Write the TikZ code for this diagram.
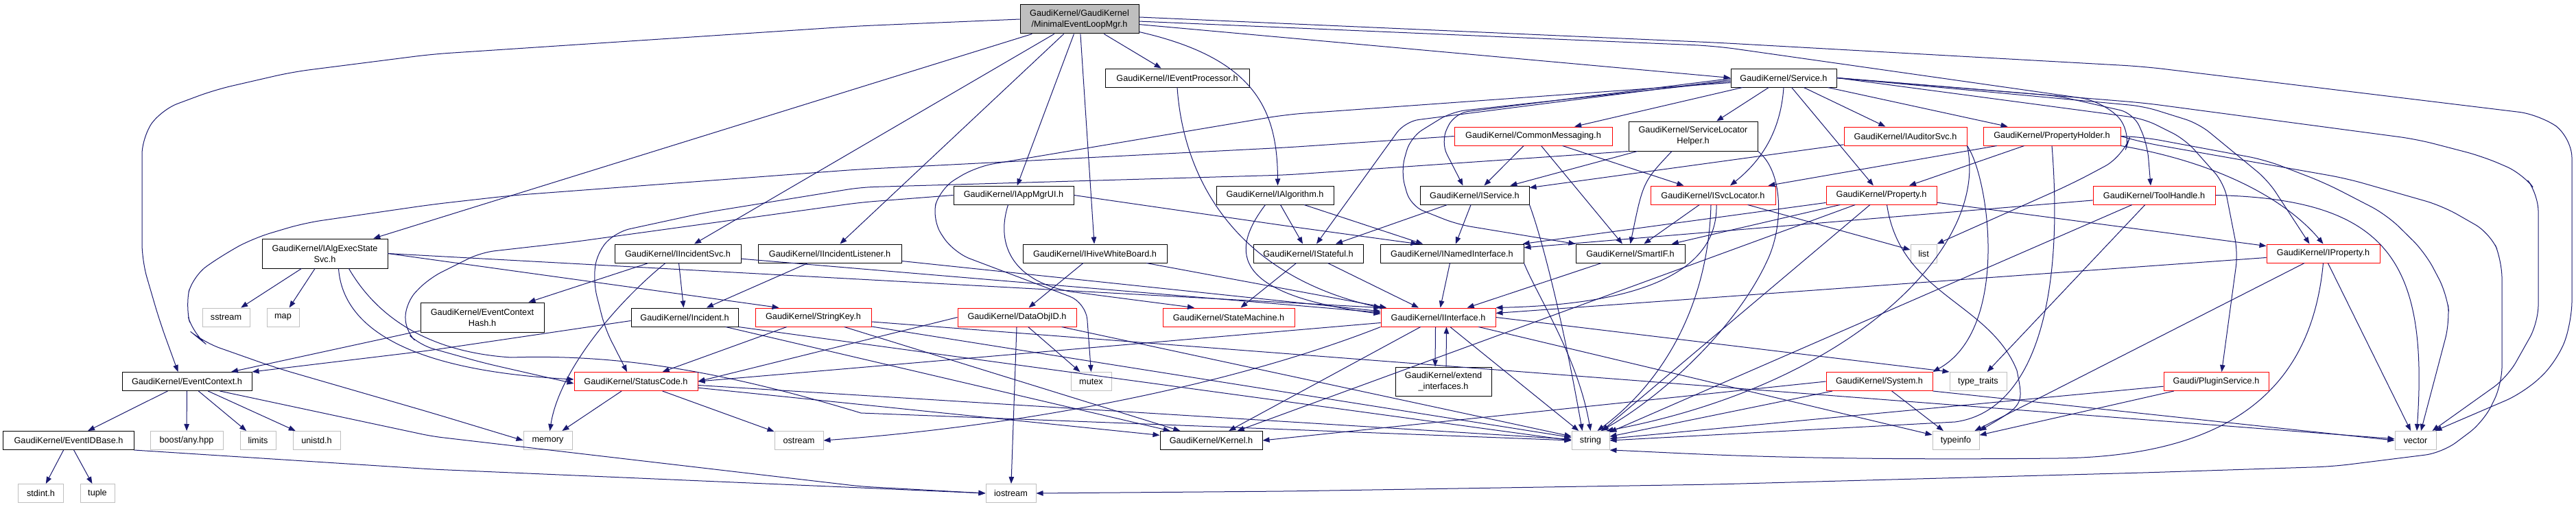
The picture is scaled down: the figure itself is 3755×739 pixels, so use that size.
\documentclass[tikz,border=0pt]{standalone}
\usepackage{fontspec}
\newfontfamily\dfont{Liberation Sans}
\usetikzlibrary{arrows.meta}
\definecolor{eb}{RGB}{25,25,112}
\definecolor{gb}{RGB}{191,191,191}
\begin{document}
\begin{tikzpicture}[x=1bp,y=-1bp,
  box/.style={rectangle, inner sep=0pt, line width=1bp, align=center, text=black, font={\dfont\fontsize{12.7bp}{16bp}\selectfont}, minimum height=27bp},
  nb/.style={box, draw=black},
  rb/.style={box, draw=red},
  gx/.style={box, draw=gb},
  tall/.style={minimum height=43bp},
  w/.style={minimum width=#1bp},
  e/.style={draw=eb, line width=1bp, -{Triangle[length=10bp,width=7.5bp]}}
]
\fill[white] (0,0) rectangle (3755,739);
\useasboundingbox (0,0) rectangle (3755,739);

% row 0
\node[nb, tall, w=173, fill=gb, minimum height=42bp] (top) at (1573.5,28) {GaudiKernel/GaudiKernel\\/MinimalEventLoopMgr.h};
% row 1
\node[nb, w=210] (evp) at (1716,113.5) {GaudiKernel/IEventProcessor.h};
\node[nb, w=154] (svc) at (2600,113.5) {GaudiKernel/Service.h};
% row 2
\node[rb, w=230] (cm) at (2235,198.5) {GaudiKernel/CommonMessaging.h};
\node[nb, tall, w=188] (slh) at (2468,198.5) {GaudiKernel/ServiceLocator\\Helper.h};
\node[rb, w=179] (aud) at (2777.5,198.5) {GaudiKernel/IAuditorSvc.h};
\node[rb, w=200] (ph) at (2991,198.5) {GaudiKernel/PropertyHolder.h};
% row 3
\node[nb, w=175] (amu) at (1477.5,284.5) {GaudiKernel/IAppMgrUI.h};
\node[nb, w=171] (alg) at (1858.5,284.5) {GaudiKernel/IAlgorithm.h};
\node[nb, w=159] (isvc) at (2149.5,284.5) {GaudiKernel/IService.h};
\node[rb, w=182] (isl) at (2497,284.5) {GaudiKernel/ISvcLocator.h};
\node[rb, w=161] (prop) at (2742.5,284.5) {GaudiKernel/Property.h};
\node[rb, w=178] (th) at (3140,284.5) {GaudiKernel/ToolHandle.h};
% row 4
\node[nb, tall, w=183] (aes) at (473.5,369.5) {GaudiKernel/IAlgExecState\\Svc.h};
\node[nb, w=184] (iis) at (988,369.5) {GaudiKernel/IIncidentSvc.h};
\node[nb, w=209] (iil) at (1209.5,369.5) {GaudiKernel/IIncidentListener.h};
\node[nb, w=210] (hwb) at (1596,369.5) {GaudiKernel/IHiveWhiteBoard.h};
\node[nb, w=160] (ist) at (1907,369.5) {GaudiKernel/IStateful.h};
\node[nb, w=209] (ini) at (2116.5,369.5) {GaudiKernel/INamedInterface.h};
\node[nb, w=159] (sif) at (2376.5,369.5) {GaudiKernel/SmartIF.h};
\node[gx, w=38] (list) at (2804,369.5) {list};
\node[rb, w=165] (iprop) at (3386.5,369.5) {GaudiKernel/IProperty.h};
% row 5
\node[gx, w=69] (sstream) at (329.5,462.5) {sstream};
\node[gx, w=47] (map) at (412.5,462.5) {map};
\node[nb, tall, w=180] (ech) at (703,462.5) {GaudiKernel/EventContext\\Hash.h};
\node[nb, w=156] (inc) at (998,462.5) {GaudiKernel/Incident.h};
\node[rb, w=169] (sk) at (1185.5,462.5) {GaudiKernel/StringKey.h};
\node[rb, w=173] (doid) at (1482.5,462.5) {GaudiKernel/DataObjID.h};
\node[rb, w=192] (sm) at (1791,462.5) {GaudiKernel/StateMachine.h};
\node[rb, w=167] (ii) at (2096.5,462.5) {GaudiKernel/IInterface.h};
% row 6
\node[nb, w=189] (ec) at (272.5,556) {GaudiKernel/EventContext.h};
\node[rb, w=180] (sc) at (927,556) {GaudiKernel/StatusCode.h};
\node[gx, w=59] (mutex) at (1590.5,556) {mutex};
\node[nb, w=140, minimum height=42bp] (ext) at (2104,556) {GaudiKernel/extend\\\_interfaces.h};
\node[rb, w=155] (sys) at (2739.5,556) {GaudiKernel/System.h};
\node[gx, w=83] (tt) at (2883.5,556) {type\_traits};
\node[rb, w=153] (ps) at (3230.5,556) {Gaudi/PluginService.h};
% row 7
\node[nb, w=190] (eidb) at (100,642) {GaudiKernel/EventIDBase.h};
\node[gx, w=106] (any) at (272,642) {boost/any.hpp};
\node[gx, w=52] (limits) at (376,642) {limits};
\node[gx, w=69] (unistd) at (461.5,642) {unistd.h};
\node[gx, w=71] (memory) at (798.5,642) {memory};
\node[gx, w=71] (ostream) at (1164.5,642) {ostream};
\node[nb, w=149] (kern) at (1765.5,642) {GaudiKernel/Kernel.h};
\node[gx, w=55] (string) at (2318.5,642) {string};
\node[gx, w=68] (typeinfo) at (2851,642) {typeinfo};
\node[gx, w=60] (vector) at (3521,642) {vector};
% row 8
\node[gx, w=65] (stdint) at (59.5,719) {stdint.h};
\node[gx, w=50] (tuple) at (142,719) {tuple};
\node[gx, w=73] (iostream) at (1473.5,719) {iostream};

% ---- edges from top
\draw[e, rounded corners=25bp] (top.west) -- (1250,38) -- (630,79) -- (426,105) -- (313,131) -- (235,160) -- (207,200) -- (207,380) -- (233,469) -- ([xshift=-13bp]ec.north);
\draw[e] (top) -- (aes);
\draw[e] (top) -- (iis);
\draw[e] (top) -- (iil);
\draw[e] (top) -- (amu);
\draw[e] (top) -- (hwb);
\draw[e] (top) -- (evp);
\draw[e] (top.-12) .. controls (1830,85) and (1862,160) .. ([xshift=4bp]alg.north);
\draw[e] (top.-5) -- (svc.west);
\draw[e, rounded corners=30bp] (top.-2) -- (2500,67) -- (3063,147) -- (3108,190) -- (3095,228) -- (3022,267) -- (list.north east);
\draw[e, rounded corners=30bp] (top.2) -- (2500,62) -- (3125,97) -- (3702,167) -- (3749,200) -- (3749,469) -- (3728,526) -- (3680,572) -- ([xshift=-2bp]vector.north east);

% ---- IEventProcessor
\draw[e] (evp.south) .. controls (1725,260) and (1800,400) .. (ii.north west);

% ---- Service
\draw[e] (svc) -- (cm);
\draw[e] (svc) -- (slh);
\draw[e] (svc.south) .. controls (2595,200) and (2560,240) .. ([xshift=25bp]isl.north);
\draw[e] (svc) -- (prop);
\draw[e] (svc) -- (aud);
\draw[e] (svc) -- (ph);
\draw[e, rounded corners=20bp] ([yshift=-1bp]svc.west) -- (2120,165) -- (2100,207) -- ([xshift=-17bp]isvc.north);
\draw[e, rounded corners=20bp] ([yshift=-3bp]svc.west) -- (2048,177) -- ([xshift=12bp]ist.north);
\draw[e, rounded corners=20bp] ([yshift=-5bp]svc.west) -- (2116,163) -- (2056,200) -- (2042,250) -- (2056,300) -- (2124,327) -- (sif.north west);
\draw[e, rounded corners=25bp] ([yshift=-7bp]svc.west) -- (1875,167) -- (1423,243) -- (1370,275) -- (1358,320) -- (1390,368) -- (1583,441) -- (mutex.north);
\draw[e, rounded corners=20bp] (svc.east) -- (3000,140) -- (3110,165) -- (3130,210) -- ([xshift=-5bp]th.north);
\draw[e, rounded corners=20bp] (svc.east) -- (3125,155) -- (3205,180) -- (3306,263) -- ([xshift=-20bp]iprop.north);
\draw[e, rounded corners=20bp] (svc.east) -- (3125,173) -- (3185,203) -- (3242,267) -- (3262,369) -- ([xshift=8bp]ps.north);
\draw[e, rounded corners=25bp] (svc.east) -- (3125,150) -- (3523,203) -- (3619,228) -- (3677,253) -- (3700,283) -- (3700,470) -- (3655,550) -- ([xshift=-6bp]vector.north east);

% ---- CommonMessaging
\draw[e] (cm) -- (isvc);
\draw[e] (cm) -- (sif);
\draw[e] (cm) -- (isl);
\draw[e, rounded corners=25bp] (cm.west) -- (1875,215) -- (1250,247) -- (745,285) -- (630,298) -- (444,325) -- (370,347) -- (329,369) -- (281,402) -- (270,446) -- (281,486) -- (297,499) -- (402,536) -- (630,602) -- (memory.west);

% ---- ServiceLocatorHelper
\draw[e] (slh) -- (isvc);
\draw[e] ([xshift=-31bp]slh.south) .. controls (2395,265) .. (sif.north);
\draw[e] (slh.south east) .. controls (2600,250) and (2600,330) .. (2576,380) .. controls (2530,480) and (2420,580) .. ([xshift=15bp]string.north);
\draw[e, rounded corners=20bp] (slh.south west) -- (1875,255) -- (1255,273) -- (1027,310) -- (898,338) -- (870,368) -- (865,412) -- (882,479) -- ([xshift=-13bp]sc.north);

% ---- IAuditorSvc
\draw[e] (aud) -- (isvc);
\draw[e] (aud.south east) .. controls (2900,260) and (2930,480) .. (sys.north east);
\draw[e] (aud.south east) .. controls (2900,360) and (2700,560) .. ([xshift=-5bp]string.north east);

% ---- PropertyHolder
\draw[e] (ph) -- (prop);
\draw[e] (ph) -- (isl);
\draw[e] (ph.south east) .. controls (3250,240) and (3340,300) .. (iprop.north);
\draw[e, rounded corners=25bp] (ph.east) -- (3125,200) -- (3302,233) -- (3390,267) -- (3479,313) -- (3535,368) -- (3567,429) -- (3571,469) -- ([xshift=8bp]vector.north);
\draw[e] (ph.south) .. controls (3010,450) and (2960,600) .. (2850,615) -- (string.east);
\draw[e, rounded corners=25bp] (ph.east) -- (3125,208) -- (3420,260) -- (3560,300) -- (3630,340) -- (3647,380) -- (3647,560) -- (3620,615) -- (3560,660) -- (3400,680) -- (3125,689) -- (2500,706) -- (1875,716) -- (iostream.east);

% ---- IAppMgrUI
\draw[e, rounded corners=20bp] (amu.west) -- (1255,295) -- (834,353) -- (701,368) -- (625,406) -- (592,440) -- (590,482) -- (612,503) -- (705,529) -- ([yshift=-3bp]sc.west);
\draw[e, rounded corners=20bp] (amu.east) -- (1880,330) -- ([xshift=-50bp]ini.north);
\draw[e] ([xshift=-8bp]amu.south) .. controls (1450,360) and (1480,410) .. (1560,425) -- ([xshift=-50bp]sm.north);

% ---- IAlgorithm
\draw[e] (alg) -- (ist);
\draw[e] (alg) -- (ini);
\draw[e] ([xshift=-14bp]alg.south) .. controls (1790,370) and (1800,430) .. ([yshift=5bp]ii.west);

% ---- IService
\draw[e] (isvc) -- (ist);
\draw[e] (isvc) -- (ini);
\draw[e] (isvc.south east) .. controls (2245,340) and (2275,450) .. ([xshift=-12bp]string.north);

% ---- ISvcLocator
\draw[e] (isl) -- (sif);
\draw[e] (isl) -- (list);
\draw[e] ([xshift=5bp]isl.south) .. controls (2505,420) and (2330,445) .. (ii.north east);
\draw[e] ([xshift=-3bp]isl.south) .. controls (2490,450) and (2420,560) .. ([xshift=10bp]string.north);

% ---- Property
\draw[e] (prop) -- (iprop);
\draw[e] (prop) -- (sif);
\draw[e] (prop) -- (ini);
\draw[e] ([xshift=8bp]prop.south) .. controls (2770,430) and (2900,440) .. (2940,540) .. controls (2950,590) .. (typeinfo.north east);
\draw[e] (prop) -- (kern);
\draw[e] (prop) -- (string);

% ---- ToolHandle
\draw[e] (th) -- (ini);
\draw[e] (th) -- (tt);
\draw[e] (th) -- (string);
\draw[e] (th.east) .. controls (3480,290) and (3540,380) .. ([xshift=2bp]vector.north);

% ---- IProperty
\draw[e] (iprop) -- (ii);
\draw[e] (iprop) -- (vector);
\draw[e] (iprop) -- (typeinfo);
\draw[e] (iprop.south) .. controls (3370,560) and (3260,665) .. (3000,668) .. controls (2600,672) and (2450,660) .. (string.south east);

% ---- PluginService
\draw[e] (ps) -- (string);
\draw[e] (ps) -- (typeinfo);

% ---- row 4 sources
\draw[e] (aes) -- (sstream);
\draw[e] (aes) -- (map);
\draw[e] ([xshift=20bp]aes.south) .. controls (500,480) and (600,540) .. ([yshift=3bp]sc.west);
\draw[e] (aes.east) -- ([xshift=-50bp]sk.north);
\draw[e] (aes.east) -- (ii.north west);
\draw[e] ([xshift=35bp]aes.south) .. controls (560,480) and (650,515) .. (745,521) .. controls (900,516) and (1050,540) .. (1255,602) -- (string.west);
\draw[e] (iis) -- (ech);
\draw[e] (iis) -- (inc);
\draw[e] ([xshift=-18bp]iis.south) .. controls (900,440) and (815,540) .. ([xshift=3bp]memory.north);
\draw[e] (iis) -- (ii);
\draw[e] (iil) -- (inc);
\draw[e] (iil) -- (ii);
\draw[e] (hwb) -- (doid);
\draw[e] (hwb) -- (ii);
\draw[e] (ist) -- (sm);
\draw[e] (ist) -- (ii);
\draw[e] (ini) -- (ii);
\draw[e] (ini.south east) .. controls (2240,430) and (2300,520) .. (string.north);
\draw[e] (sif) -- (ii);

% ---- row 5 sources
\draw[e] (ech) -- (ec);
\draw[e, rounded corners=15bp] ([yshift=-5bp]inc.west) -- (625,511) -- (ec.north east);
\draw[e] (inc.south east) -- (string.west);
\draw[e] (inc) -- (kern);
\draw[e] (sk) -- (sc);
\draw[e] (sk) -- (string);
\draw[e] (sk) -- (kern);
\draw[e] (sk) -- (vector);
\draw[e] (doid.west) -- (sc.east);
\draw[e] (doid) -- (mutex);
\draw[e] (doid) -- (iostream);
\draw[e] (doid) -- (string);
\draw[e] ([xshift=-4bp]ii.south) -- ([xshift=-12bp]ext.north);
\draw[e] ([xshift=4bp]ext.north) -- ([xshift=12bp]ii.south);
\draw[e] ([yshift=-8bp]ii.west) -- (sc.east);
\draw[e] (ii) -- (kern);
\draw[e] (ii.south west) .. controls (1800,560) and (1500,620) .. (ostream.east);
\draw[e] (ii) -- (string);
\draw[e] (ii) -- (typeinfo);
\draw[e] (ii.east) -- (tt.north west);

% ---- row 6 sources
\draw[e] (ec) -- (eidb);
\draw[e] (ec) -- (any);
\draw[e] (ec) -- (limits);
\draw[e] (ec) -- (unistd);
\draw[e, rounded corners=15bp] ([xshift=48bp]ec.south) -- (630,636) -- (1255,709) -- (iostream.west);
\draw[e] (sc) -- (memory);
\draw[e] (sc) -- (ostream);
\draw[e] (sc) -- (kern);
\draw[e] (sc) -- (string);
\draw[e] (sys.west) -- (kern.east);
\draw[e] (sys) -- (string);
\draw[e] (sys) -- (typeinfo);
\draw[e] (sys.south east) -- (vector.west);

% ---- row 7 sources
\draw[e] (eidb) -- (stdint);
\draw[e] (eidb) -- (tuple);
\draw[e, rounded corners=15bp] (eidb.south east) -- (630,684) -- (1255,711) -- (iostream.west);
\end{tikzpicture}
\end{document}
